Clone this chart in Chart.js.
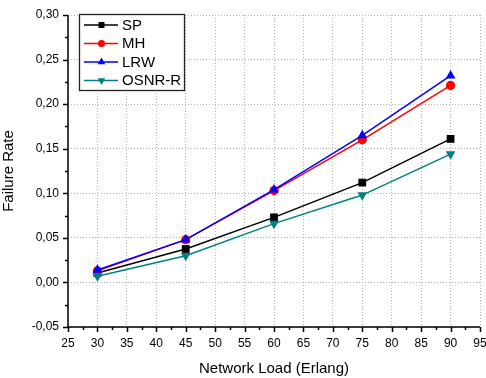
<!DOCTYPE html>
<html><head><meta charset="utf-8">
<script src="https://cdn.jsdelivr.net/npm/chart.js@4"></script>
<style>html,body{margin:0;padding:0;background:#fff}#wrap{width:486px;height:378px}</style>
</head><body><div id="wrap"><canvas id="c" width="486" height="378"></canvas></div>
<script>
const loads = [30, 45, 60, 75, 90];
const seriesNames = ['SP', 'MH', 'LRW', 'OSNR-R'];
const sp = [0.0105, 0.0375, 0.073, 0.112, 0.161];
const mh = [0.013, 0.048, 0.103, 0.160, 0.221];
const lrw = [0.014, 0.048, 0.104, 0.165, 0.232];
const osnr = [0.007, 0.030, 0.066, 0.098, 0.144];
const xTickMin = 25, xTickMax = 95, xStep = 5;
const yTickMin = -0.05, yTickMax = 0.30, yStep = 0.05;

const FONT = "'Liberation Sans', Arial, sans-serif";
const pts = arr => arr.map((v, i) => ({x: loads[i], y: v}));

const styles = [
  {color: '#000000', pointStyle: 'rect', radius: 5.5, rotation: 0, legR: 4.2},
  {color: '#ff0000', pointStyle: 'circle', radius: 4.6, rotation: 0, legR: 3.6},
  {color: '#0000ff', pointStyle: 'triangle', radius: 5.6, rotation: 0, legR: 4.4},
  {color: '#008080', pointStyle: 'triangle', radius: 5.6, rotation: 180, legR: 4.4}
];
const values = [sp, mh, lrw, osnr];
const datasets = values.map((v, i) => ({
  label: seriesNames[i],
  data: pts(v),
  borderColor: styles[i].color,
  backgroundColor: styles[i].color,
  borderWidth: 1.5,
  pointStyle: styles[i].pointStyle,
  pointRadius: styles[i].radius,
  pointRotation: styles[i].rotation,
  pointBorderWidth: 0,
  order: 3 - i
}));

const ticksPlugin = {
  id: 'axTicks',
  afterDraw(chart) {
    const ctx = chart.ctx, xs = chart.scales.x, ys = chart.scales.y;
    const area = chart.chartArea;
    ctx.save();
    ctx.strokeStyle = '#000';
    ctx.lineWidth = 1.5;
    ctx.setLineDash([]);
    ctx.beginPath(); ctx.moveTo(area.left, area.top); ctx.lineTo(area.left, area.bottom); ctx.lineTo(area.right, area.bottom); ctx.stroke();
    for (let v = xTickMin; v <= xTickMax + 1e-9; v += xStep / 2) {
      const px = Math.round(xs.getPixelForValue(v)) + 0.5;
      const major = Math.abs((v - xTickMin) / xStep - Math.round((v - xTickMin) / xStep)) < 1e-6;
      ctx.beginPath(); ctx.moveTo(px, area.bottom); ctx.lineTo(px, area.bottom + (major ? 5 : 3)); ctx.stroke();
    }
    for (let k = 0; k <= Math.round((yTickMax - yTickMin) / (yStep / 2)); k++) {
      const v = yTickMin + k * yStep / 2;
      const py = Math.round(ys.getPixelForValue(v)) + 0.5;
      const major = k % 2 === 0;
      ctx.beginPath(); ctx.moveTo(area.left, py); ctx.lineTo(area.left - (major ? 5 : 3), py); ctx.stroke();
    }
    // legend
    const bx = 79.5, by = 14.5, bw = 105, bh = 76;
    ctx.fillStyle = '#fff';
    ctx.fillRect(bx, by, bw, bh);
    ctx.lineWidth = 1.3;
    ctx.strokeStyle = '#222';
    ctx.strokeRect(bx, by, bw, bh);
    const rows = [25, 43.5, 62, 80.5];
    chart.data.datasets.forEach((ds, i) => {
      const y = rows[i];
      ctx.strokeStyle = ds.borderColor;
      ctx.lineWidth = 1.5;
      ctx.beginPath(); ctx.moveTo(84, y); ctx.lineTo(118, y); ctx.stroke();
      ctx.fillStyle = ds.backgroundColor;
      Chart.helpers.drawPoint(ctx, {pointStyle: ds.pointStyle, radius: styles[i].legR, borderWidth: 0, rotation: ds.pointRotation}, 101.5, y);
      ctx.fillStyle = '#000';
      ctx.font = '15px ' + FONT;
      ctx.textBaseline = 'middle';
      ctx.textAlign = 'left';
      ctx.fillText(ds.label, 122, y + 0.5);
    });
    ctx.restore();
  }
};

new Chart(document.getElementById('c'), {
  type: 'line',
  data: {datasets},
  options: {
    responsive: false,
    animation: false,
    devicePixelRatio: 1,
    layout: {padding: {top: 15, right: 6, left: 0, bottom: 0}},
    plugins: {legend: {display: false}, tooltip: {enabled: false}},
    scales: {
      x: {
        type: 'linear', min: xTickMin, max: xTickMax,
        ticks: {stepSize: xStep, color: '#000', font: {family: FONT, size: 12}, padding: 9, maxRotation: 0},
        grid: {color: '#b4b4b4', lineWidth: 1, drawTicks: false},
        border: {display: false, dash: [1, 2]},
        title: {display: true, text: 'Network Load (Erlang)', color: '#000', font: {family: FONT, size: 15}, padding: {top: 5, bottom: 0}},
        afterFit(s) { s.height = 51; s.paddingRight = 0; s.paddingLeft = 0; }
      },
      y: {
        type: 'linear', min: yTickMin, max: yTickMax,
        ticks: {stepSize: yStep, color: '#000', font: {family: FONT, size: 12}, padding: 9,
          callback: v => (Math.round(v * 100) / 100).toFixed(2).replace('.', ',')},
        grid: {color: '#b4b4b4', lineWidth: 1, drawTicks: false},
        border: {display: false, dash: [1, 2]},
        title: {display: true, text: 'Failure Rate', color: '#000', font: {family: FONT, size: 15}, padding: {top: 0, bottom: 3}},
        afterFit(s) { s.width = 68; s.paddingTop = 0; s.paddingBottom = 0; }
      }
    }
  },
  plugins: [ticksPlugin]
});
</script>
</body></html>
